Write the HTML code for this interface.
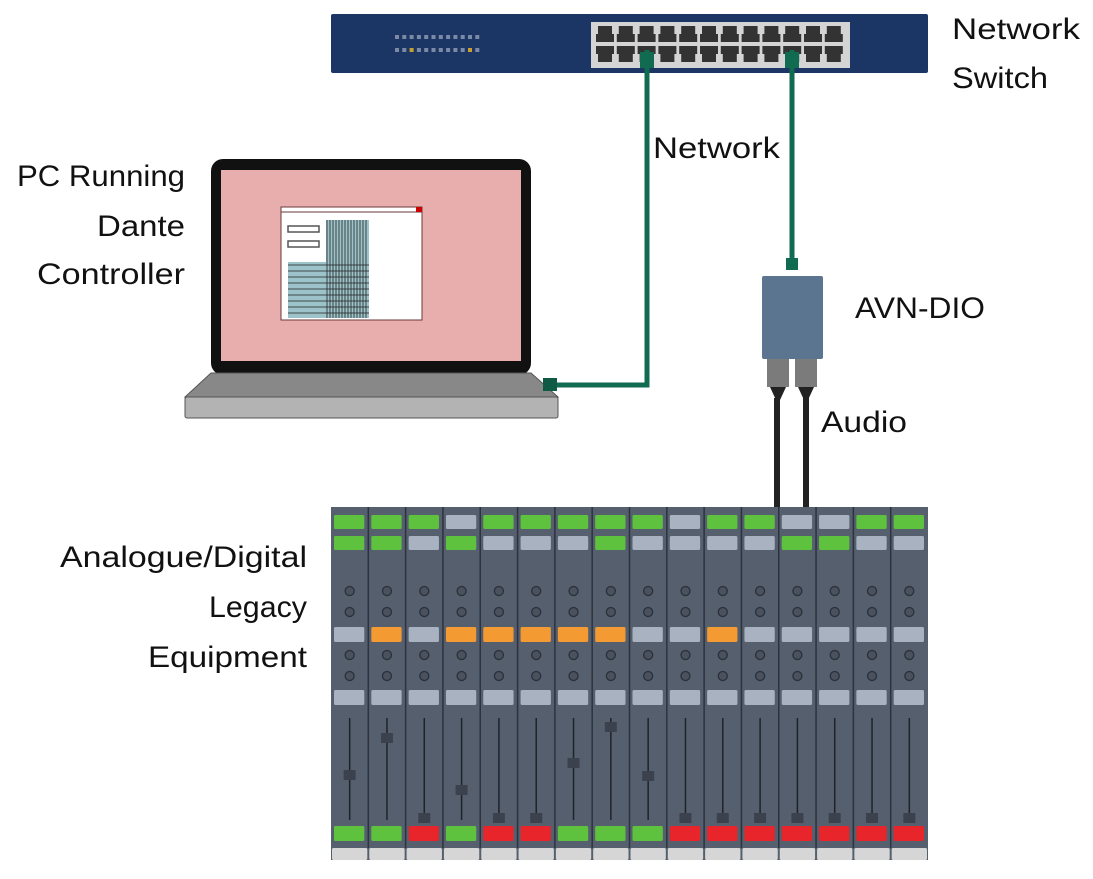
<!DOCTYPE html>
<html><head><meta charset="utf-8"><style>
html,body{margin:0;padding:0;background:#fff;width:1093px;height:879px;overflow:hidden}
svg{display:block}
text{font-family:"Liberation Sans",sans-serif;font-size:30px;fill:#111}
</style></head><body>
<svg id="s" width="1093" height="879" viewBox="0 0 1093 879" xmlns="http://www.w3.org/2000/svg">
<rect x="331" y="14" width="597" height="59" rx="2" fill="#1b3564"/>
<rect x="591" y="22" width="259" height="46" fill="#d4d4d4"/>
<g id="ports"></g>
<g id="leds"></g>
<rect x="211" y="159" width="320" height="216" rx="12" fill="#111"/>
<rect x="221" y="170" width="300" height="191" fill="#e8aeae"/>
<rect x="281" y="207" width="141" height="113" fill="#fff" stroke="#6b3a3a" stroke-width="1"/>
<line x1="281" y1="212" x2="422" y2="212" stroke="#6b3a3a" stroke-width="1"/>
<rect x="416" y="207" width="6" height="5" fill="#c00"/>
<rect x="288" y="226" width="31" height="6" fill="#fff" stroke="#555" stroke-width="1.5"/>
<rect x="288" y="241" width="31" height="6" fill="#fff" stroke="#555" stroke-width="1.5"/>
<rect x="326" y="220" width="43" height="98" fill="#9cc3c9"/>
<rect x="288" y="262" width="81" height="56" fill="#9cc3c9"/>
<g id="grid" stroke="#222" stroke-width="0.8"></g>
<polygon points="211,373 531,373 558,397 185,397" fill="#888" stroke="#555"/>
<rect x="185" y="397" width="373" height="21" rx="2" fill="#b3b3b3" stroke="#555"/>
<polyline points="647,50 647,385 553,385" fill="none" stroke="#116b50" stroke-width="5"/>
<rect x="543" y="378" width="14" height="13" fill="#0f5a44"/>
<polyline points="792,50 792,265" fill="none" stroke="#116b50" stroke-width="5"/>
<rect x="640" y="52" width="14" height="16" fill="#116b50"/>
<rect x="785" y="52" width="14" height="16" fill="#116b50"/>
<rect x="786" y="258" width="12" height="12" fill="#116b50"/>
<rect x="762" y="276" width="61" height="83" rx="2" fill="#5b7490"/>
<rect x="767" y="359" width="22" height="28" fill="#7b7b7b"/>
<rect x="795" y="359" width="22" height="28" fill="#7b7b7b"/>
<polygon points="770,387 786,387 780,400 776,400" fill="#222"/>
<polygon points="798,387 814,387 808,400 804,400" fill="#222"/>
<line x1="777" y1="398" x2="777" y2="508" stroke="#222" stroke-width="6"/>
<line x1="806" y1="398" x2="806" y2="508" stroke="#222" stroke-width="6"/>
<rect x="331" y="507" width="597" height="353" fill="#555f6e"/>
<g id="mix"></g>
<text x="952" y="39" textLength="128" lengthAdjust="spacingAndGlyphs">Network</text>
<text x="952" y="88" textLength="96" lengthAdjust="spacingAndGlyphs">Switch</text>
<text x="17" y="186" textLength="168" lengthAdjust="spacingAndGlyphs">PC Running</text>
<text x="97" y="236" textLength="88" lengthAdjust="spacingAndGlyphs">Dante</text>
<text x="37" y="284" textLength="148" lengthAdjust="spacingAndGlyphs">Controller</text>
<text x="653" y="158" textLength="127" lengthAdjust="spacingAndGlyphs">Network</text>
<text x="855" y="318" textLength="130" lengthAdjust="spacingAndGlyphs">AVN-DIO</text>
<text x="821" y="432" textLength="86" lengthAdjust="spacingAndGlyphs">Audio</text>
<text x="60" y="567" textLength="247" lengthAdjust="spacingAndGlyphs">Analogue/Digital</text>
<text x="209" y="617" textLength="98" lengthAdjust="spacingAndGlyphs">Legacy</text>
<text x="148" y="667" textLength="159" lengthAdjust="spacingAndGlyphs">Equipment</text>
</svg>
<script>
var NS="http://www.w3.org/2000/svg";
function el(p,t,a){var e=document.createElementNS(NS,t);for(var k in a)e.setAttribute(k,a[k]);document.getElementById(p).appendChild(e);return e;}
for(var i=0;i<12;i++){var x=596+i*20.8;
 el("ports","path",{d:"M"+(x+2)+" 26 h14 v8 h2 v8 h-18 v-8 h2z",fill:"#333"});
 el("ports","path",{d:"M"+x+" 46 h18 v8 h-2 v8 h-14 v-8 h-2z",fill:"#333"});}
for(var i=0;i<12;i++){var x=395+i*7.3;
 el("leds","rect",{x:x,y:35,width:4,height:4,fill:"#7c8aa6"});
 el("leds","rect",{x:x,y:48,width:4,height:4,fill:(i==2||i==10)?"#c9a030":"#7c8aa6"});}
for(var i=0;i<14;i++){el("grid","line",{x1:327+i*3,y1:220,x2:327+i*3,y2:318});}
for(var i=0;i<9;i++){el("grid","line",{x1:288,y1:265+i*6,x2:369,y2:265+i*6});}
var G="#5fc23f",Gy="#a9b2c1",O="#f39a33",R="#e8252a";
var r1="GGGgGGGGGgGGggGG",r2="GGgGgggGggggGGgg",mid="gOgOOOOOggOggggg",bot="GGRGRRGGGRRRRRRR";
var fy=[775,738,818,790,818,818,763,727,776,818,818,818,818,818,818,818];
function c(ch){return ch=="G"?G:ch=="O"?O:ch=="R"?R:Gy;}
var w=597/16;
for(var i=0;i<16;i++){var x=331+i*w,cx=x+w/2;
 if(i>0)el("mix","line",{x1:x,y1:507,x2:x,y2:848,stroke:"#2c333e","stroke-width":1.5});
 el("mix","rect",{x:x+3,y:515,width:w-7,height:14,rx:1.5,fill:c(r1[i])});
 el("mix","rect",{x:x+3,y:536,width:w-7,height:14,rx:1.5,fill:c(r2[i])});
 [591,612,655,676].forEach(function(y){el("mix","circle",{cx:cx,cy:y,r:4.5,fill:"#4a5260",stroke:"#2a2f38","stroke-width":1.3});});
 el("mix","rect",{x:x+3,y:627,width:w-7,height:15,rx:1.5,fill:c(mid[i])});
 el("mix","rect",{x:x+3,y:690,width:w-7,height:15,rx:1.5,fill:Gy});
 el("mix","line",{x1:cx,y1:718,x2:cx,y2:820,stroke:"#1e232b","stroke-width":1.5});
 el("mix","rect",{x:cx-6,y:fy[i]-5,width:12,height:10,fill:"#3c424d"});
 el("mix","rect",{x:x+3,y:826,width:w-7,height:15,rx:1.5,fill:c(bot[i])});
 el("mix","rect",{x:x+1,y:848,width:w-2,height:12,rx:1.5,fill:"#d6d6d6"});}
</script>
</body></html>
